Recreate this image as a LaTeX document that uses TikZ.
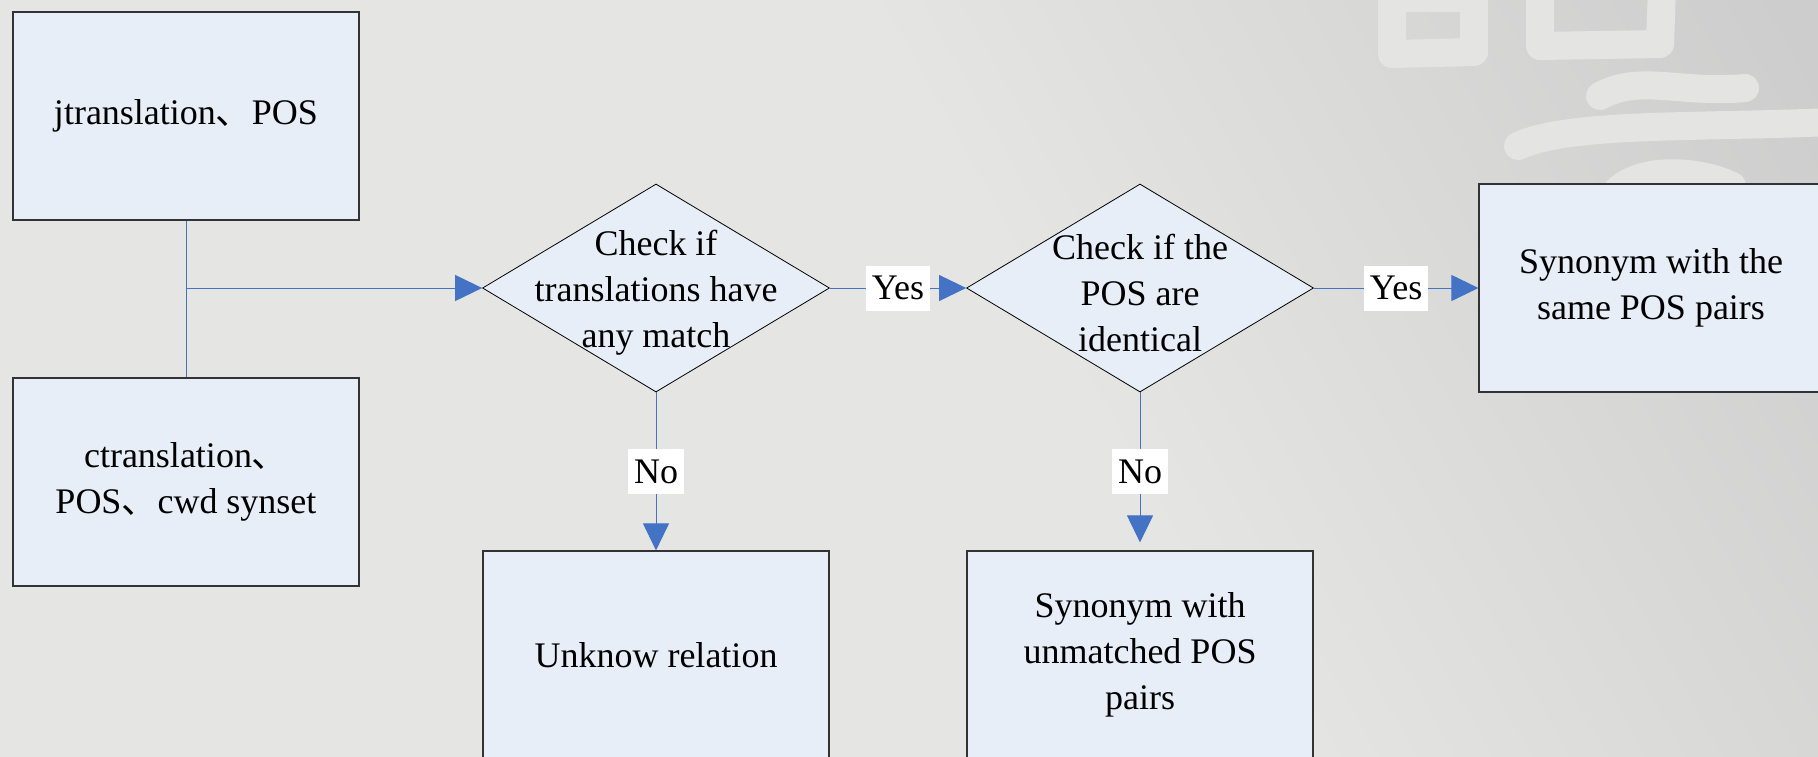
\documentclass[tikz,border=0pt]{standalone}
\usepackage{fontspec}
\setmainfont{Liberation Serif}
\newfontfamily\cjk{Noto Sans CJK SC}
\usetikzlibrary{shapes.geometric, arrows.meta, positioning}
\definecolor{bglight}{RGB}{229,229,227}
\definecolor{bgdark}{RGB}{205,205,205}
\definecolor{wmgray}{RGB}{228,228,226}
\definecolor{boxfill}{RGB}{232,238,247}
\definecolor{linkblue}{RGB}{68,114,196}
\pgfdeclarehorizontalshading{bgshade}{100bp}{color(0bp)=(bglight); color(55bp)=(bglight); color(83bp)=(bgdark); color(100bp)=(bgdark)}
\newcommand{\dun}{{\cjk 、}}
\tikzset{
  box/.style={draw=black!80, line width=0.6pt, fill=boxfill, rectangle,
    minimum width=173pt, minimum height=104pt, align=center, inner sep=0pt},
  decision/.style={draw=black, line width=0.4pt, fill=boxfill, diamond,
    minimum width=173.5pt, minimum height=104pt, inner sep=0pt},
  txt/.style={align=center, yshift=-2.5pt},
  link/.style={draw=linkblue, line width=0.5pt, -{Triangle[length=13.5pt,width=13pt]}},
  yesno/.style={fill=white, inner xsep=3pt, inner ysep=0pt, minimum height=22.5pt},
  wm/.style={draw=wmgray, line width=14pt, line cap=round, line join=round}
}
\begin{document}
\begin{tikzpicture}[x=0.5pt, y=-0.5pt, font=\fontsize{18}{23}\selectfont]
  \useasboundingbox (0,0) rectangle (1818,756);

  % background
  \fill[shading=bgshade, shading angle=29] (0,0) rectangle (1818,756);
  \draw[wm] (1392,-2) -- (1392,54) -- (1474,52) -- (1474,-2) -- cycle;
  \draw[wm] (1540,-12) -- (1540,46) -- (1660,44) -- (1662,-12);
  \draw[wm] (1600,96) .. controls (1640,74) and (1680,94) .. (1745,88);
  \draw[wm] (1518,146) .. controls (1570,122) and (1700,128) .. (1830,122);
  \draw[wm] (1616,192) .. controls (1640,166) and (1700,170) .. (1732,186);

  % input boxes
  \node [box] (jt) at (186,116) {jtranslation\dun POS};
  \node [box] (ct) at (186,482) {ctranslation\dun\\POS\dun cwd synset};

  % decisions
  \node [decision] (d1) at (656,288) {};
  \node [txt] (d1t) at (d1) {Check if\\translations have\\any match};
  \node [decision] (d2) at (1140,288) {};
  \node [txt] (d2t) at (d2) {Check if the\\POS are\\identical};

  % results
  \node [box, minimum width=172pt] (same) at (1651,288) {Synonym with the\\same POS pairs};
  \node [box] (unk) at (656,655) {Unknow relation};
  \node [box] (unm) at (1140,655) {Synonym with\\unmatched POS\\pairs};

  % links
  \coordinate (join) at (jt.south |- d1.west);
  \draw [linkblue, line width=0.5pt] (jt.south) -- (ct.north);
  \draw [link] (join) -- (d1.west);

  \draw [link] (d1.east) -- node [yesno] (y1) {Yes} (d2.west);
  \draw [link] (d2.east) -- node [yesno] (y2) {Yes} (same.west);
  \draw [link] (d1.south) -- node [yesno] (n1) {No} (unk.north);
  \draw [link, shorten >=4pt] (d2.south) -- node [yesno] (n2) {No} (unm.north);

\end{tikzpicture}
\end{document}
